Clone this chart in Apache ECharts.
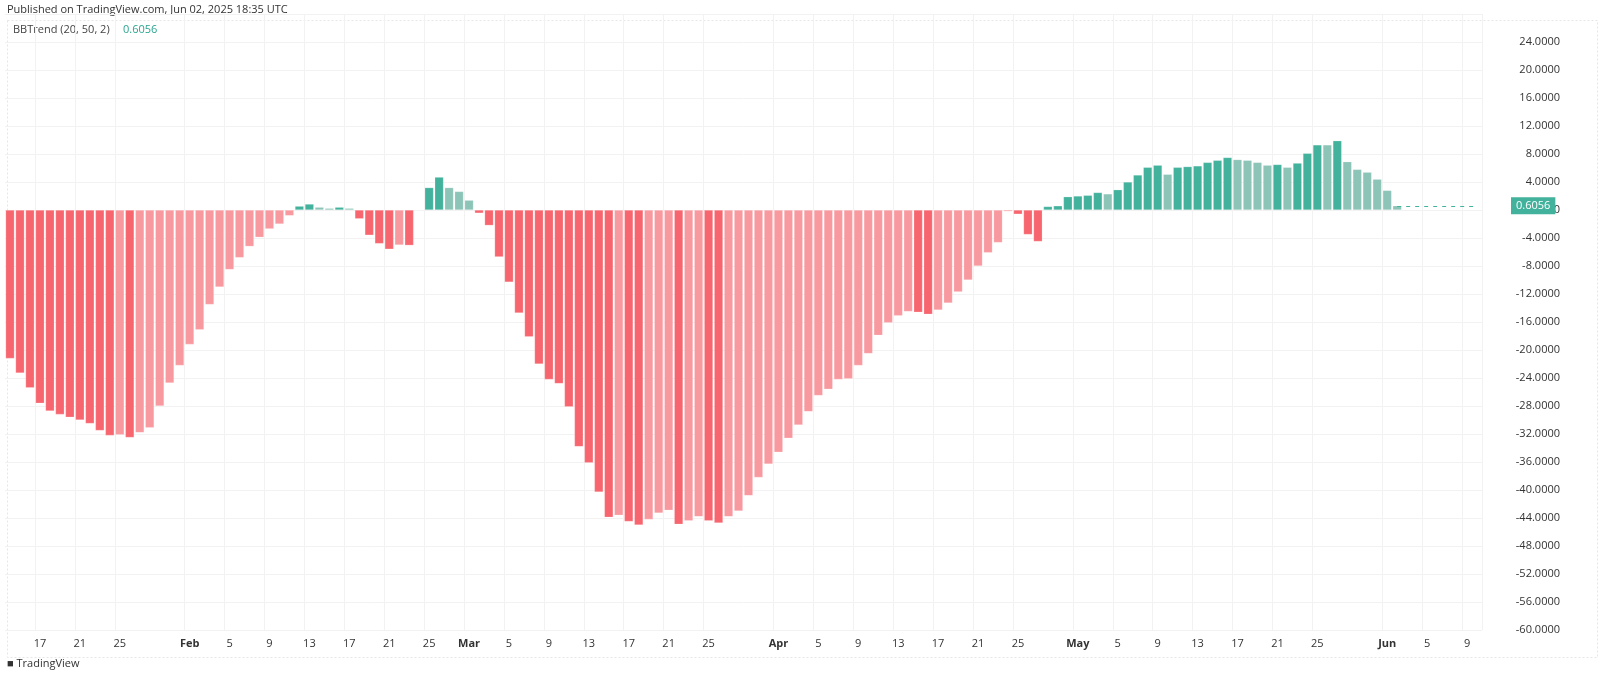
<!DOCTYPE html>
<html>
<head>
<meta charset="utf-8">
<script src="https://cdn.jsdelivr.net/npm/echarts@6/dist/echarts.min.js"></script>
<style>
  html, body { margin: 0; padding: 0; background: #fff; }
  #chart { width: 1600px; height: 693px; }
</style>
</head>
<body>
<div id="chart"></div>
<script>
// daily bars, Jan 14 .. Jun 2 2025, axis runs on to Jun 10
const startDate = '2025-01-14';
const axisDays = 148;

const bbtrend = [
  -21.2, -23.3, -25.4, -27.6, -28.7, -29.2, -29.6, -30.0, -30.5, -31.5,
  -32.2, -32.1, -32.5, -31.8, -31.1, -28.0, -24.7, -22.2, -19.2, -17.1,
  -13.5, -11.0, -8.5, -6.8, -5.2, -3.9, -2.7, -2.0, -0.8, 0.55,
  0.85, 0.4, 0.25, 0.4, 0.25, -1.25, -3.6, -4.8, -5.6, -5.0,
  -5.05, -0.05, 3.2, 4.7, 3.2, 2.65, 1.4, -0.45, -2.2, -6.7,
  -10.3, -14.7, -18.1, -22.0, -24.2, -24.8, -28.1, -33.8, -36.1, -40.3,
  -43.9, -43.6, -44.5, -45.0, -44.2, -43.3, -42.9, -44.9, -44.4, -43.8,
  -44.4, -44.7, -43.8, -43.0, -40.8, -38.2, -36.3, -34.6, -32.6, -30.7,
  -28.8, -26.5, -25.6, -24.2, -24.1, -22.2, -20.5, -17.9, -16.1, -15.1,
  -14.5, -14.6, -14.9, -14.3, -13.3, -11.7, -10.0, -8.0, -6.1, -4.65,
  -0.2, -0.6, -3.5, -4.5, 0.5, 0.6, 1.9, 2.0, 2.1, 2.5,
  2.3, 2.9, 4.0, 5.0, 6.1, 6.4, 5.1, 6.1, 6.2, 6.3,
  6.8, 7.1, 7.5, 7.2, 7.1, 6.8, 6.4, 6.5, 6.1, 6.7,
  8.1, 9.3, 9.3, 9.9, 6.9, 5.8, 5.4, 4.4, 2.8, 0.6056
];

const labelDays = [1, 5, 9, 13, 17, 21, 25];
const monthNames = ['Jan', 'Feb', 'Mar', 'Apr', 'May', 'Jun', 'Jul', 'Aug', 'Sep', 'Oct', 'Nov', 'Dec'];

const colors = {
  redDark: '#f7666f', redLight: '#f8999f',
  greenDark: '#43b29d', greenLight: '#8cc4b8'
};

const dates = [];
const t0 = new Date(startDate + 'T00:00:00Z');
for (let i = 0; i < axisDays; i++) {
  dates.push(new Date(t0.getTime() + i * 86400000));
}
const categories = dates.map(d => d.toISOString().slice(0, 10));

const isLabelDay = (idx) => labelDays.includes(dates[idx].getUTCDate());

const barData = bbtrend.map((v, i) => {
  const prev = i > 0 ? bbtrend[i - 1] : v + 1;
  const rising = v > prev;
  let c;
  if (v >= 0) c = rising ? colors.greenDark : colors.greenLight;
  else c = rising ? colors.redLight : colors.redDark;
  return { value: v, itemStyle: { color: c } };
});

const last = bbtrend[bbtrend.length - 1];

const chart = echarts.init(document.getElementById('chart'));
chart.setOption({
  animation: false,
  textStyle: { fontFamily: 'Open Sans, DejaVu Sans, sans-serif' },
  graphic: [
    { type: 'text', left: 7, top: 4, style: { text: 'Published on TradingView.com, Jun 02, 2025 18:35 UTC', fill: '#333', fontSize: 11, fontFamily: 'Open Sans' } },
    { type: 'text', left: 13, top: 24, style: { text: 'BBTrend (20, 50, 2)', fill: '#444', fontSize: 11, fontFamily: 'Open Sans' } },
    { type: 'text', left: 123, top: 24, style: { text: '0.6056', fill: '#2aa58f', fontSize: 11, fontFamily: 'Open Sans' } },
    { type: 'text', left: 7, top: 658, style: { text: '\u25A0 TradingView', fill: '#333', fontSize: 11, fontFamily: 'Open Sans' } },
    { type: 'rect', left: 5, top: 18, shape: { width: 1590, height: 637 }, style: { fill: 'none', stroke: '#e6e6e6', lineDash: [2, 2] } }
  ],
  grid: { left: 5, right: 118, top: 14, bottom: 63 },
  xAxis: {
    type: 'category',
    data: categories,
    boundaryGap: true,
    axisLine: { show: false },
    axisTick: { show: false },
    axisLabel: {
      interval: (idx) => isLabelDay(idx),
      formatter: (val, idx) => {
        const d = dates[idx];
        return d.getUTCDate() === 1 ? '{m|' + monthNames[d.getUTCMonth()] + '}' : String(d.getUTCDate());
      },
      color: '#333', fontSize: 11, margin: 8,
      rich: { m: { fontWeight: 'bold', color: '#333', fontSize: 11 } }
    },
    splitLine: { show: true, interval: (idx) => isLabelDay(idx), lineStyle: { color: '#f2f2f2' } }
  },
  yAxis: {
    type: 'value',
    position: 'right',
    min: -60, max: 28, interval: 4,
    axisLine: { show: false },
    axisTick: { show: false },
    axisLabel: {
      color: '#333', fontSize: 11, align: 'right', margin: 78,
      formatter: (v) => v > 24 ? '' : v.toFixed(4)
    },
    splitLine: { lineStyle: { color: '#f2f2f2' } }
  },
  series: [{
    type: 'bar',
    data: barData,
    barCategoryGap: '12%',
    itemStyle: { borderColor: 'rgba(255,255,255,0.4)', borderWidth: 0.5 },
    markLine: {
      symbol: 'none',
      silent: true,
      lineStyle: { color: '#43b29d', type: [4, 5], width: 1 },
      label: {
        position: 'end', distance: 34,
        formatter: last.toFixed(4),
        color: '#fff', backgroundColor: '#43b29d',
        padding: [3, 5], fontSize: 11
      },
      data: [[
        { coord: [categories[bbtrend.length - 1], last] },
        { coord: [categories[axisDays - 1], last] }
      ]]
    }
  }]
});
</script>
</body>
</html>
